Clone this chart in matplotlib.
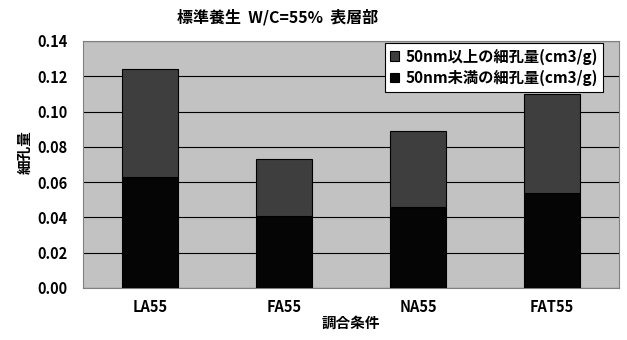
import matplotlib
matplotlib.use("Agg")
import matplotlib.pyplot as plt
import numpy as np

plt.rcParams['font.family'] = ['Noto Sans CJK JP', 'DejaVu Sans']

categories = ["LA55", "FA55", "NA55", "FAT55"]
below50 = [0.063, 0.041, 0.046, 0.054]
above50_total = [0.124, 0.073, 0.089, 0.110]
above50 = [t - b for t, b in zip(above50_total, below50)]
yticks = [0.00, 0.02, 0.04, 0.06, 0.08, 0.10, 0.12, 0.14]
labels = ["50nm以上の細孔量(cm3/g)", "50nm未満の細孔量(cm3/g)"]

W, H = 627, 340
fig = plt.figure(figsize=(6.27, 3.40), dpi=100)
left, right, top, bottom = 83, 619, 41, 288
ax = fig.add_axes([left / W, 1 - bottom / H, (right - left) / W, (bottom - top) / H])
ax.set_facecolor('#c2c2c2')

x = np.arange(len(categories))
w = 0.42
b1 = ax.bar(x, below50, w, color='#050505', edgecolor='#000000', linewidth=0.8, zorder=3, label=labels[1])
b2 = ax.bar(x, above50, w, bottom=below50, color='#3e3e3e', edgecolor='#000000', linewidth=0.8, zorder=3, label=labels[0])

ax.set_xlim(-0.5, len(categories) - 0.5)
ax.set_ylim(0, 0.14)
ax.set_yticks(yticks)
ax.set_yticklabels([f"{v:.2f}" for v in yticks], fontsize=10.5, fontweight='bold')
ax.set_xticks(x)
ax.set_xticklabels(categories, fontsize=10.5, fontweight='bold')
ax.tick_params(axis='y', length=0, pad=11)
ax.tick_params(axis='x', length=0, pad=8)
ax.yaxis.grid(True, color='#000000', linewidth=0.8, zorder=1)
ax.set_axisbelow(True)
for s in ax.spines.values():
    s.set_color('#808080')
    s.set_linewidth(0.8)

fig.text(278 / W, 1 - 17 / H, "標準養生  W/C=55%  表層部", fontsize=11.5,
         fontweight='bold', ha='center', va='center')
ax.set_xlabel("調合条件", fontsize=10.5, fontweight='bold', labelpad=0)
ax.set_ylabel("細孔量", fontsize=10.5, fontweight='bold', labelpad=6)
ax.yaxis.set_label_coords(-0.095, 0.55)

leg = ax.legend([b2, b1], labels, loc='upper right',
                bbox_to_anchor=((603 - left) / (right - left), 1 - 2 / (bottom - top)),
                fontsize=11, frameon=True,
                fancybox=False, edgecolor='#000000', framealpha=1, facecolor='white',
                handlelength=0.6, handleheight=0.6, handletextpad=0.4,
                borderaxespad=0, labelspacing=0.35, borderpad=0.35)
leg.get_frame().set_linewidth(0.8)
for t in leg.get_texts():
    t.set_fontweight('bold')

fig.savefig("out.png", dpi=100, facecolor='white')
